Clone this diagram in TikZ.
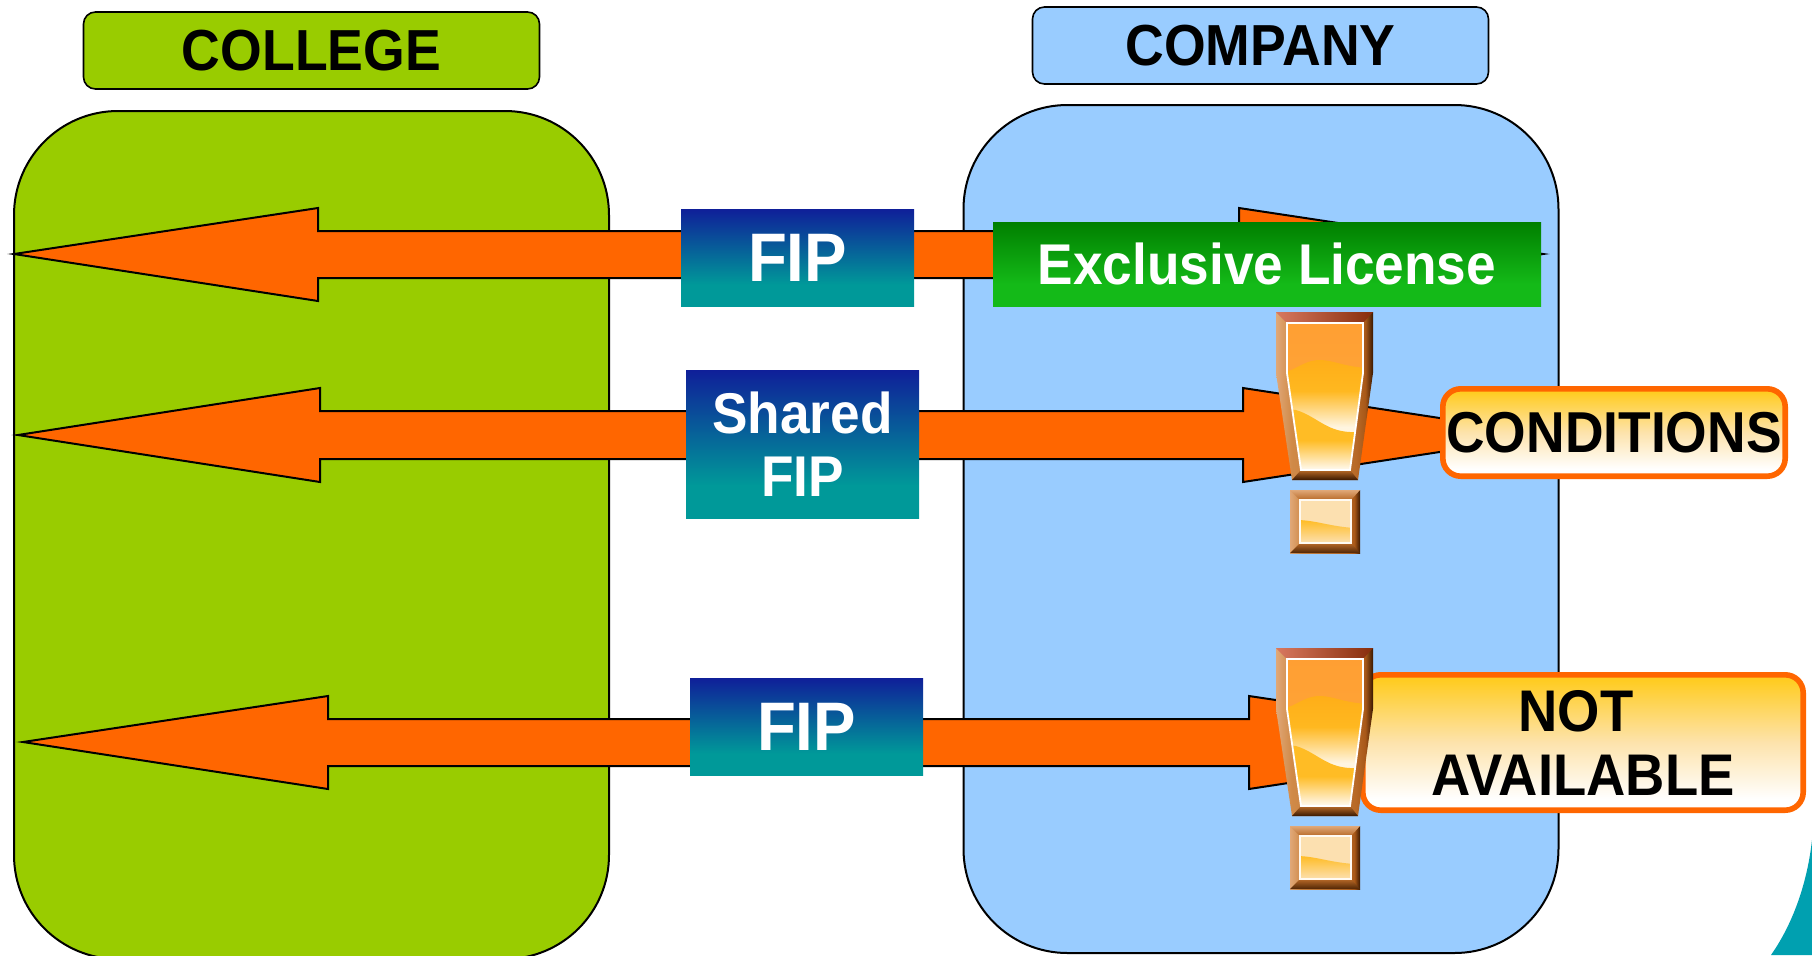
\documentclass[tikz,border=0pt]{standalone}
\usepackage{fontspec}
\setmainfont{Liberation Sans}
\definecolor{collegegreen}{HTML}{99CC00}
\definecolor{companyblue}{HTML}{99CCFF}
\definecolor{arroworange}{HTML}{FF6600}
\definecolor{tealcorner}{HTML}{00A0B0}
\definecolor{fiptop}{HTML}{0F1F99}
\definecolor{fipbot}{HTML}{009999}
\definecolor{greentop}{HTML}{007F00}
\definecolor{greenbot}{HTML}{14BA18}
\definecolor{warntop}{HTML}{FFCC22}
\definecolor{warnmid}{HTML}{FDE3AC}
\definecolor{warnbot}{HTML}{FFFFFF}
\definecolor{exA}{HTML}{FF9F33}
\definecolor{exB}{HTML}{FFAA3A}
\definecolor{exC}{HTML}{FFAE18}
\definecolor{exD}{HTML}{FFB820}
\definecolor{exE}{HTML}{FFF5E0}
\definecolor{exF}{HTML}{FFBC25}
\definecolor{exG}{HTML}{FFFAF2}
\definecolor{frL}{HTML}{E0A878}
\definecolor{frK}{HTML}{D08A48}
\definecolor{frM}{HTML}{B86A28}
\definecolor{frN}{HTML}{A85818}
\definecolor{frR}{HTML}{3A1800}
\definecolor{frTopA}{HTML}{D87860}
\definecolor{frTopB}{HTML}{C04010}
\definecolor{dotpale}{HTML}{FCE0B0}
\pgfdeclareverticalshading{fipgrad}{100bp}{color(0bp)=(fipbot);color(36bp)=(fipbot);color(75bp)=(fiptop);color(100bp)=(fiptop)}
\pgfdeclareverticalshading{greengrad}{100bp}{color(0bp)=(greenbot);color(38bp)=(greenbot);color(75bp)=(greentop);color(100bp)=(greentop)}
\pgfdeclareverticalshading{warngrad}{100bp}{color(0bp)=(warnbot);color(29bp)=(warnbot);color(50bp)=(warnmid);color(73bp)=(warntop);color(100bp)=(warntop)}
\pgfdeclareverticalshading{exbandA}{100bp}{color(0bp)=(exB);color(25bp)=(exB);color(75bp)=(exA);color(100bp)=(exA)}
\pgfdeclareverticalshading{exbandB}{100bp}{color(0bp)=(exE);color(44.6bp)=(exE);color(61bp)=(exD);color(75bp)=(exC);color(100bp)=(exC)}
\pgfdeclareverticalshading{exbandC}{100bp}{color(0bp)=(exG);color(25bp)=(exG);color(49bp)=(exF);color(100bp)=(exF)}
\pgfdeclarehorizontalshading{exframe}{100bp}{color(0bp)=(frL);color(25bp)=(frL);color(33bp)=(frK);color(66bp)=(frM);color(71bp)=(frN);color(75bp)=(frR);color(100bp)=(frR)}
\newcommand{\tallText}[1]{\scalebox{1}[1.08]{#1}}
\tikzset{
  bigbox/.style={draw=black,line width=1pt,rounded corners=52pt,inner sep=0pt,minimum width=297.5pt,minimum height=424pt},
  titlebox/.style={draw=black,line width=0.8pt,rounded corners=6pt,inner sep=0pt,minimum width=228pt,minimum height=38.5pt,font=\fontsize{26.8}{32}\selectfont\bfseries,text=black},
  fipbox/.style={shade,shading=fipgrad,inner sep=0pt,minimum width=116.5pt,text=white},
  blockarrow/.style={draw=black,fill=arroworange,line width=1pt,line join=miter},
  warnbox/.style={shade,shading=warngrad,draw=arroworange,line width=2.8pt,rounded corners=9pt,inner sep=0pt,text=black}
}
\newcommand{\exclaimMark}[2]{%
\begin{scope}[shift={(#1,#2)}]
  \path[shade,shading=exframe] (0,0) -- (97,0) -- (97,61) -- (82,168) -- (16,168) -- (0,61) -- cycle;
  \path[left color=frTopA,right color=frTopB!70!black] (0,0) -- (97,0) -- (87,11) -- (11,11) -- cycle;
  \path[top color=frM,bottom color=frR] (25,158) -- (74,158) -- (82,168) -- (16,168) -- cycle;
  \begin{scope}
    \clip (11,11) -- (87,11) -- (87,61) -- (74,158) -- (25,158) -- (11,61) -- cycle;
    \path[shade,shading=exbandA] (0,11) rectangle (97,158);
    \path[shade,shading=exbandB] (0,62) .. controls (16,62) and (26,48) .. (44,48) .. controls (58,48) and (70,56) .. (97,56) -- (97,158) -- (0,158) -- cycle;
    \path[shade,shading=exbandC] (0,96) -- (20,98) .. controls (40,104) and (50,119) .. (74,120) -- (97,121) -- (97,158) -- (0,158) -- cycle;
  \end{scope}
  \draw[white,line width=0.9pt] (11,11) -- (87,11) -- (87,61) -- (74,158) -- (25,158) -- (11,61) -- cycle;
  \path[shade,shading=exframe] (14,178) rectangle (84,241);
  \path[top color=frL,bottom color=frM] (14,178) -- (84,178) -- (75,188) -- (24,188) -- cycle;
  \path[top color=frM,bottom color=frR!80!frN] (24,231) -- (75,231) -- (84,241) -- (14,241) -- cycle;
  \begin{scope}
    \clip (24,188) rectangle (75,231);
    \fill[dotpale] (24,188) rectangle (75,231);
    \path[top color=exF,bottom color=dotpale] (20,208) .. controls (40,208) and (55,215) .. (80,216) -- (80,231) -- (20,231) -- cycle;
  \end{scope}
  \draw[exG,line width=0.9pt] (24,188) rectangle (75,231);
\end{scope}}
\begin{document}
\begin{tikzpicture}[x=0.5pt,y=-0.5pt]
  \clip (0,0) rectangle (1812,955);
  \fill[white] (0,0) rectangle (1812,955);
  \fill[tealcorner] (1812,840) .. controls (1807,885) and (1792,925) .. (1771,955) -- (1812,955) -- cycle;

  \node[bigbox,fill=collegegreen] (college) at (311.5,535) {};
  \node[bigbox,fill=companyblue] (company) at (1261,529) {};
  \node[titlebox,fill=collegegreen] (collegetitle) at (311.5,50.5) {\tallText{COLLEGE}};
  \node[titlebox,fill=companyblue] (companytitle) at (1260.5,45.5) {\tallText{COMPANY}};

  \coordinate (tipLa) at (14,254);  \coordinate (tipRa) at (1543,254);
  \coordinate (tipLb) at (18,435);  \coordinate (tipRb) at (1551,435);
  \coordinate (tipLc) at (23,742);  \coordinate (tipRc) at (1557,742);
  \draw[blockarrow] (tipLa) -- (318,208) -- (318,231) -- (1239,231) -- (1239,208) -- (tipRa) -- (1239,301) -- (1239,278) -- (318,278) -- (318,301) -- cycle;
  \draw[blockarrow] (tipLb) -- (320,388) -- (320,411) -- (1243,411) -- (1243,388) -- (tipRb) -- (1243,482) -- (1243,459) -- (320,459) -- (320,482) -- cycle;
  \draw[blockarrow] (tipLc) -- (328,696) -- (328,719) -- (1249,719) -- (1249,696) -- (tipRc) -- (1249,789) -- (1249,766) -- (328,766) -- (328,789) -- cycle;

  \node[fipbox,minimum height=48.5pt,font=\fontsize{31.8}{36}\selectfont\bfseries] (fipa) at (797.5,257.5) {\tallText{FIP}};
  \node[fipbox,minimum height=74pt,align=center,font=\fontsize{26.6}{31.5}\selectfont\bfseries] (fipb) at (802.5,444) {\tallText{Shared}\\\tallText{FIP}};
  \node[fipbox,minimum height=48.5pt,font=\fontsize{31.8}{36}\selectfont\bfseries] (fipc) at (806.5,726.5) {\tallText{FIP}};
  \node[shade,shading=greengrad,inner sep=0pt,minimum width=274pt,minimum height=42pt,text=white,font=\fontsize{26.6}{32}\selectfont\bfseries] (license) at (1267,264) {\tallText{Exclusive License}};

  \exclaimMark{1276}{312}
  \node[warnbox,minimum width=171.2pt,minimum height=43.7pt,font=\fontsize{26.7}{32}\selectfont\bfseries] (conditions) at (1614,432.5) {\tallText{CONDITIONS}};
  \node[warnbox,minimum width=220.2pt,minimum height=67.7pt,align=center,font=\fontsize{27.2}{32}\selectfont\bfseries] (notavail) at (1583,742.5) {\tallText{NOT}\hspace*{7pt}\\\tallText{AVAILABLE}};
  \exclaimMark{1276}{648}
\end{tikzpicture}
\end{document}
